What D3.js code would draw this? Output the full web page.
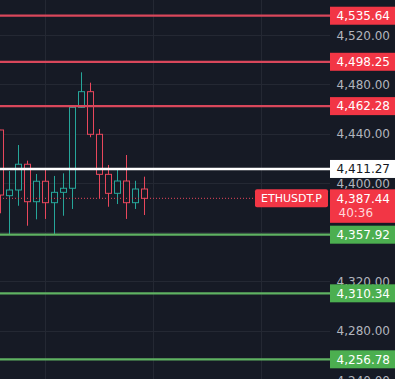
<!DOCTYPE html>
<html><head><meta charset="utf-8">
<script src="https://cdn.jsdelivr.net/npm/d3@7"></script>
<style>html,body{margin:0;padding:0;background:#161a25;overflow:hidden}</style>
</head><body>
<svg id="c" width="395" height="379"></svg>
<script>
// ---- data ----
const candleIdx = [0,1,2,3,4,5,6,7,8,9,10,11,12,13,14,15,16];
const opens  = [4442.9,4389.6,4394.2,4415.1,4384.7,4401.3,4383.9,4392.3,4395.6,4461.3,4474.0,4439.4,4406.9,4391.5,4401.5,4383.9,4395.0];
const highs  = [4443.0,4409.6,4430.7,4418.0,4407.2,4410.4,4405.6,4407.7,4461.5,4489.7,4481.3,4443.7,4414.5,4411.2,4422.6,4401.7,4405.0];
const lows   = [4375.3,4357.7,4381.4,4365.2,4370.4,4370.7,4357.7,4373.3,4378.8,4461.0,4437.0,4387.5,4380.6,4382.8,4370.7,4378.8,4373.9];
const closes = [4390.1,4394.2,4415.1,4384.7,4401.3,4383.9,4392.3,4395.6,4461.3,4474.0,4439.4,4406.9,4391.5,4401.5,4383.9,4395.0,4387.44];
const priceTicks = [4240,4280,4320,4360,4400,4440,4480,4520];
const priceTickLabels = [4240,4280,4320,4400,4440,4480,4520]; // 4,360 is hidden behind a level label
const timeGridIdx = [5,17,29];
const redLevels = [4535.64,4498.25,4462.28];
const whiteLevels = [4411.27];
const greenLevels = [4357.92,4310.34,4256.78];
const lastPrice = 4387.44;
const countdown = "40:36";
const symbol = "ETHUSDT.P";

// ---- setup ----
const W = 395, H = 379, plotR = 330;
const svg = d3.select("#c");
const bg = "#161a25";
const upC = "#26a69a", downC = "#e8475c";
const font = "DejaVu Sans";
const fmt = d3.format(",.2f");

const y = d3.scaleLinear().domain([4240.8, 4548.4]).range([H, 0]);
const x = d3.scaleLinear().domain([0, 1]).range([0.5, 9.5]);

svg.append("rect").attr("width", W).attr("height", H).attr("fill", bg);

// grid
const grid = svg.append("g").attr("stroke", "#242833").attr("stroke-width", 1);
grid.selectAll("line.h").data(priceTicks).join("line").attr("class","h")
  .attr("x1", 0).attr("x2", plotR)
  .attr("y1", d => Math.round(y(d)) + 0.5).attr("y2", d => Math.round(y(d)) + 0.5);
grid.selectAll("line.v").data(timeGridIdx).join("line").attr("class","v")
  .attr("x1", d => x(d)).attr("x2", d => x(d)).attr("y1", 0).attr("y2", H);

// tick labels
const axis = d3.axisRight(y).tickValues(priceTickLabels).tickSize(0).tickFormat(fmt);
const ag = svg.append("g").attr("transform", `translate(${plotR},0)`).call(axis);
ag.select(".domain").remove();
ag.selectAll("text").attr("x", 60).attr("text-anchor", "end").attr("dy", "0.35em")
  .attr("fill", "#b2b5be").style("font-family", font).style("font-size", "12px");

// candles
const cg = svg.append("g");
const cand = cg.selectAll("g").data(candleIdx).join("g");
cand.append("line")
  .attr("x1", i => x(i)).attr("x2", i => x(i))
  .attr("y1", i => y(highs[i])).attr("y2", i => y(lows[i]))
  .attr("stroke", i => closes[i] >= opens[i] ? upC : downC).attr("stroke-width", 1);
cand.append("rect")
  .attr("x", i => x(i) - 3).attr("width", 6)
  .attr("y", i => y(Math.max(opens[i], closes[i])))
  .attr("height", i => Math.max(1, Math.abs(y(opens[i]) - y(closes[i]))))
  .attr("fill", bg)
  .attr("stroke", i => closes[i] >= opens[i] ? upC : downC).attr("stroke-width", 1);

// last price dotted line
svg.append("line").attr("x1", 0).attr("x2", plotR)
  .attr("y1", y(lastPrice)).attr("y2", y(lastPrice))
  .attr("stroke", "#e8475c").attr("stroke-width", 1).attr("stroke-dasharray", "1,2");

// level lines
function levels(arr, color, width) {
  svg.append("g").selectAll("line").data(arr).join("line")
    .attr("x1", 0).attr("x2", plotR)
    .attr("y1", d => y(d)).attr("y2", d => y(d))
    .attr("stroke", color).attr("stroke-width", width);
}
levels(redLevels, "#d9475b", 2.2);
levels(whiteLevels, "#ffffff", 2.6);
levels(greenLevels, "#5fb262", 2.2);

// level labels
function labels(arr, fill, textFill) {
  const g = svg.append("g").selectAll("g").data(arr).join("g");
  g.append("rect").attr("x", plotR).attr("width", W - plotR)
    .attr("y", d => y(d) - 9).attr("height", 18).attr("fill", fill);
  g.append("text").attr("x", 390).attr("y", d => y(d)).attr("dy", "0.36em")
    .attr("text-anchor", "end").attr("fill", textFill)
    .style("font-family", font).style("font-size", "12px").text(d => fmt(d));
}
labels(redLevels, "#f23645", "#ffffff");
labels(whiteLevels, "#ffffff", "#131722");
labels(greenLevels, "#4caf50", "#ffffff");

// current price box
const ly = y(lastPrice);
svg.append("rect").attr("x", plotR).attr("width", W - plotR)
  .attr("y", ly - 9).attr("height", 33.5).attr("fill", "#f23645");
svg.append("text").attr("x", 390).attr("y", ly).attr("dy", "0.36em")
  .attr("text-anchor", "end").attr("fill", "#ffffff")
  .style("font-family", font).style("font-size", "12px").text(fmt(lastPrice));
svg.append("text").attr("x", 338.5).attr("y", ly + 14).attr("dy", "0.36em")
  .attr("fill", "#ffd6da")
  .style("font-family", font).style("font-size", "12px").text(countdown);

// symbol label
svg.append("rect").attr("x", 255).attr("width", 73).attr("y", ly - 9).attr("height", 18)
  .attr("rx", 2).attr("fill", "#f23645");
svg.append("text").attr("x", 291.5).attr("y", ly).attr("dy", "0.36em")
  .attr("text-anchor", "middle").attr("fill", "#ffffff")
  .style("font-family", font).style("font-size", "11px").text(symbol);
</script>
</body></html>
